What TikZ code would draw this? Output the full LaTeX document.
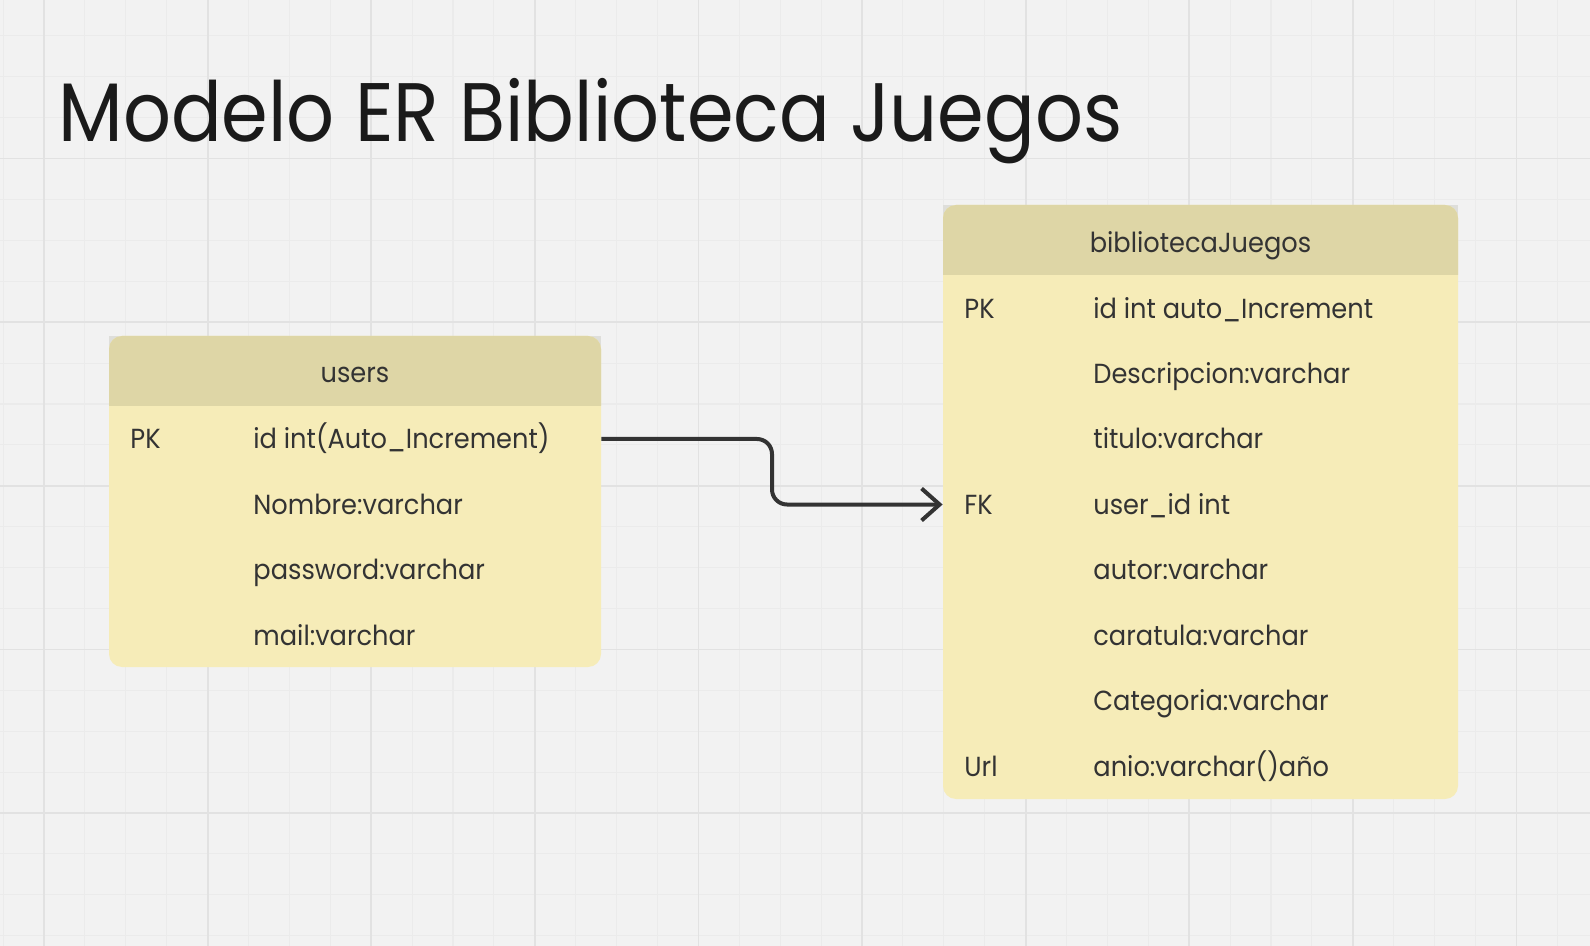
\documentclass[tikz,border=0pt]{standalone}
\usepackage{fontspec}
\setmainfont{Poppins}
\newfontfamily\rowfont{Poppins}[FakeStretch=0.93]
\newfontfamily\titlefont{Poppins}[FakeStretch=0.905]
\usetikzlibrary{arrows.meta}
\definecolor{bgcol}{RGB}{242,242,242}
\definecolor{minorgrid}{RGB}{235,235,235}
\definecolor{majorgrid}{RGB}{226,226,226}
\definecolor{bodyfill}{RGB}{246,236,184}
\definecolor{headfill}{RGB}{222,214,166}
\definecolor{cornergray}{RGB}{222,222,218}
\definecolor{txt}{RGB}{51,51,51}
\definecolor{titlecol}{RGB}{26,26,26}
\definecolor{conncol}{RGB}{51,51,51}
\tikzset{
  minorline/.style={draw=minorgrid, line width=0.55pt},
  majorline/.style={draw=majorgrid, line width=0.9pt},
  tablebox/.style={fill=bodyfill, rounded corners=6.5pt, inner sep=0pt, draw=none},
  headtxt/.style={anchor=base, inner sep=0pt, text=txt, font=\rowfont\fontsize{13.8}{16}\selectfont},
  rowtxt/.style={anchor=base west, inner sep=0pt, text=txt, font=\rowfont\fontsize{13.8}{16}\selectfont},
  titletxt/.style={anchor=base west, inner sep=0pt, text=titlecol, font=\titlefont\fontsize{41.5}{48}\selectfont},
  conn/.style={draw=conncol, line width=2pt, rounded corners=7.5pt, -{Straight Barb[length=9pt,width=16pt,line width=2pt]}}
}
\begin{document}
\begin{tikzpicture}[x=0.5pt,y=-0.5pt]
\useasboundingbox (0,0) rectangle (1590,946);
\fill[bgcol] (0,0) rectangle (1590,946);
% grid
\foreach \i in {-1,...,38} {\draw[minorline] ({44+40.9*\i},0) -- ({44+40.9*\i},946);}
\foreach \i in {-3,...,19} {\draw[minorline] (0,{158.6+40.9*\i}) -- (1590,{158.6+40.9*\i});}
\foreach \i in {0,...,9} {\draw[majorline] ({44+163.6*\i},0) -- ({44+163.6*\i},946);}
\foreach \i in {-1,...,4} {\draw[majorline] (0,{158.6+163.6*\i}) -- (1590,{158.6+163.6*\i});}

% title
\node[titletxt] (title) at (58,142) {Modelo ER Biblioteca Juegos};

% users table
\fill[cornergray] (109,336) rectangle (601,406);
\node[tablebox, minimum width=246pt, minimum height=165.5pt] (users) at (355,501.5) {};
\begin{scope}
\clip (109,336) rectangle (601,406);
\fill[headfill, rounded corners=6.5pt] (109,336) rectangle (601,667);
\end{scope}
\node[headtxt] (usersh) at (355,383) {users};
\node[rowtxt] (u1k) at (130,449) {PK};
\node[rowtxt] (u1) at (253,449) {id int(Auto\_Increment)};
\node[rowtxt] (u2) at (253,514.4) {Nombre:varchar};
\node[rowtxt] (u3) at (253,579.8) {password:varchar};
\node[rowtxt] (u4) at (253,645.2) {mail:varchar};

% bibliotecaJuegos table
\fill[cornergray] (943,205) rectangle (1458,275);
\node[tablebox, minimum width=257.5pt, minimum height=297pt] (bj) at (1200.5,502) {};
\begin{scope}
\clip (943,205) rectangle (1458,275);
\fill[headfill, rounded corners=6.5pt] (943,205) rectangle (1458,799);
\end{scope}
\node[headtxt] (bjh) at (1200.5,252.5) {bibliotecaJuegos};
\node[rowtxt] (b1k) at (964,318.2) {PK};
\node[rowtxt] (b1) at (1093,318.2) {id int auto\_Increment};
\node[rowtxt] (b2) at (1093,383.6) {Descripcion:varchar};
\node[rowtxt] (b3) at (1093,449) {titulo:varchar};
\node[rowtxt] (b4k) at (964,514.4) {FK};
\node[rowtxt] (b4) at (1093,514.4) {user\_id int};
\node[rowtxt] (b5) at (1093,579.8) {autor:varchar};
\node[rowtxt] (b6) at (1093,645.2) {caratula:varchar};
\node[rowtxt] (b7) at (1093,710.6) {Categoria:varchar};
\node[rowtxt] (b8k) at (964,776) {Url};
\node[rowtxt] (b8) at (1093,776) {anio:varchar()año};

% connector
\coordinate (r1) at (355,439);
\coordinate (r4) at (1200,504.5);
\coordinate (bend) at (772,470);
\draw[conn] (users.east |- r1) -- (bend |- r1) -- (bend |- r4) -- (bj.west |- r4);
\end{tikzpicture}
\end{document}
